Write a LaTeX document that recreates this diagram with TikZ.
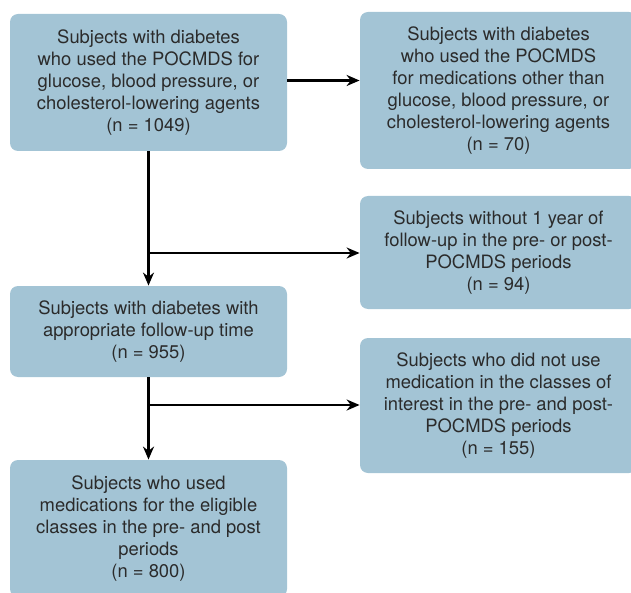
\documentclass[tikz,border=0pt]{standalone}
\usepackage{fontspec}
\setmainfont{TeX Gyre Heros}
\usetikzlibrary{arrows.meta}
\definecolor{boxblue}{HTML}{A3C4D5}
\definecolor{boxtext}{HTML}{2B2B2B}

\tikzset{
	flowbox/.style = {rectangle, rounded corners = 4pt, fill = boxblue, text = boxtext,
		align = center, minimum width = 138.5pt, minimum height = #1, inner sep = 0pt,
		font = \fontsize{9.2}{11}\selectfont},
	flowarrow/.style = {draw, black, line width = 1.2pt, -{Stealth[length = 6.5pt, width = 5.5pt]}}
}

\begin{document}
\begin{tikzpicture}[x = 0.5pt, y = -0.5pt]
		\useasboundingbox (0,0) rectangle (631,593);
		
		\node[flowbox = 68.5pt] (A) at (148.5,82.5) {Subjects with diabetes\\who used the POCMDS for\\glucose, blood pressure, or\\cholesterol-lowering agents\\(n = 1049)};
		\node[flowbox = 78.5pt] (B) at (498.5,90.5) {Subjects with diabetes\\who used the POCMDS\\for medications other than\\glucose, blood pressure, or\\cholesterol-lowering agents\\(n = 70)};
		\node[flowbox = 56.5pt] (C) at (498.5,252.5) {Subjects without 1 year of\\follow-up in the pre- or post-\\POCMDS periods\\(n = 94)};
		\node[flowbox = 45.5pt] (D) at (148.5,331.5) {Subjects with diabetes with\\appropriate follow-up time\\(n = 955)};
		\node[flowbox = 67.5pt] (E) at (498.5,405.5) {Subjects who did not use\\medication in the classes of\\interest in the pre- and post-\\POCMDS periods\\(n = 155)};
		\node[flowbox = 68.5pt] (F) at (148.5,528.5) {Subjects who used\\medications for the eligible\\classes in the pre- and post\\periods\\(n = 800)};
		
		\coordinate (J1) at (148.5,253);
		\coordinate (J2) at (148.5,405);
		
		\path[flowarrow] ([yshift = 1pt]A.east) -- ([yshift = 1pt]A.east -| B.west);
		\path[flowarrow] (A.south) -- (D.north);
		\path[flowarrow] (J1) -- (J1 -| C.west);
		\path[flowarrow] (D.south) -- (F.north);
		\path[flowarrow] (J2) -- (J2 -| E.west);
	\end{tikzpicture}
\end{document}
